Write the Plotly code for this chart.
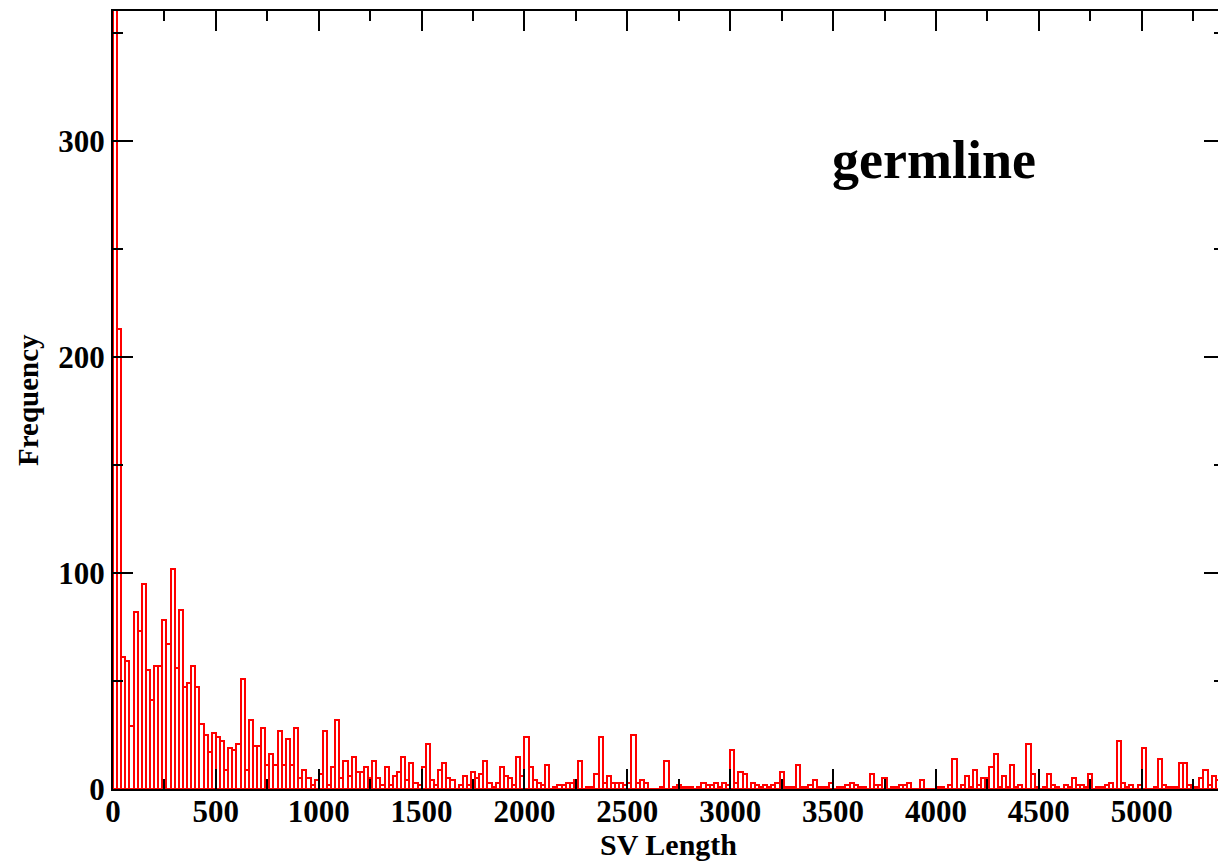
import plotly.graph_objects as go

# Histogram of SV lengths (bin width 20, starting at 0)
bin_width = 20
counts = [
    600, 213, 61, 59, 29, 82, 73, 95, 55, 41,      # 0-199
    57, 57, 78, 67, 102, 56, 83, 47, 49, 57,       # 200-399
    47, 30, 25, 17, 26, 24, 22, 9, 19, 18,         # 400-599
    21, 51, 9, 32, 20, 20, 28, 11, 16, 11,         # 600-799
    27, 11, 23, 11, 28, 5, 9, 5, 2, 4,             # 800-999
    7, 27, 2, 10, 32, 5, 13, 6, 15, 8,             # 1000-1199
    8, 10, 5, 13, 5, 2, 10, 2, 6, 8,               # 1200-1399
    15, 4, 12, 3, 2, 10, 21, 4, 2, 9,              # 1400-1599
    12, 5, 4, 0, 2, 6, 2, 8, 5, 7,                 # 1600-1799
    13, 3, 1, 3, 10, 6, 5, 2, 15, 6,               # 1800-1999
    24, 10, 4, 3, 2, 11, 0, 1, 2, 2,               # 2000-2199
    3, 3, 4, 13, 0, 1, 1, 7, 24, 3,                # 2200-2399
    6, 3, 3, 3, 2, 3, 25, 3, 4, 3,                 # 2400-2599
    0, 0, 0, 1, 13, 0, 1, 2, 1, 1,                 # 2600-2799
    1, 0, 1, 3, 2, 2, 3, 1, 3, 2,                  # 2800-2999
    18, 3, 8, 7, 0, 3, 2, 1, 2, 1,                 # 3000-3199
    2, 3, 8, 1, 1, 1, 11, 1, 1, 2,                 # 3200-3399
    4, 1, 1, 1, 3, 0, 1, 1, 2, 3,                  # 3400-3599
    2, 1, 1, 0, 7, 2, 2, 5, 0, 1,                  # 3600-3799
    1, 2, 2, 3, 0, 0, 4, 0, 0, 0,                  # 3800-3999
    1, 1, 0, 2, 14, 0, 2, 6, 1, 9,                 # 4000-4199
    2, 5, 5, 10, 16, 1, 6, 1, 11, 1,               # 4200-4399
    2, 0, 21, 7, 1, 0, 1, 7, 2, 1,                 # 4400-4599
    0, 2, 1, 5, 2, 2, 1, 7, 0, 1,                  # 4600-4799
    1, 2, 3, 0, 22, 3, 1, 2, 0, 2,                 # 4800-4999
    19, 0, 0, 1, 14, 2, 1, 1, 1, 12,               # 5000-5199
    12, 2, 0, 1, 5, 9, 2, 6, 4, 0,                 # 5200-5399
]
bin_centers = [bin_width * i + bin_width / 2 for i in range(len(counts))]

x_range = [0, 5400]
y_range = [0, 360]
x_title = "SV Length"
y_title = "Frequency"
label_text = "germline"

font_family = "Liberation Serif"

fig = go.Figure()
fig.add_trace(go.Bar(
    x=bin_centers, y=counts, width=bin_width,
    marker=dict(color="rgba(255,255,255,0)", line=dict(color="#ff0000", width=2)),
    showlegend=False,
))

axis_common = dict(
    showline=True, linewidth=2, linecolor="black", mirror="ticks",
    ticks="inside", ticklen=20, tickwidth=2, tickcolor="black",
    showgrid=False, zeroline=False, automargin=False,
    tickfont=dict(family=font_family, size=31, color="black", weight="bold"),
)

fig.update_xaxes(range=x_range, tick0=0, dtick=500, ticklabelstandoff=-6,
                 minor=dict(ticks="inside", ticklen=10, tickwidth=2, tickcolor="black", dtick=250, showgrid=False),
                 **axis_common)
fig.update_yaxes(range=y_range, tick0=0, dtick=100,
                 minor=dict(ticks="inside", ticklen=10, tickwidth=2, tickcolor="black", dtick=50, showgrid=False),
                 **axis_common)

fig.add_annotation(text=x_title, xref="paper", yref="paper", x=0.5, y=-0.0715,
                   xanchor="center", yanchor="middle", showarrow=False,
                   font=dict(family=font_family, size=30, color="black", weight="bold"))
fig.add_annotation(text=y_title, xref="paper", yref="paper", x=-0.0765, y=0.5,
                   xanchor="center", yanchor="middle", showarrow=False, textangle=-90,
                   font=dict(family=font_family, size=29, color="black", weight="bold"))
fig.add_annotation(text=label_text, xref="paper", yref="paper", x=0.7390, y=0.8085,
                   xanchor="center", yanchor="middle", showarrow=False,
                   font=dict(family=font_family, size=54, color="black", weight="bold"))

# page body adds an 8px margin, so the figure is sized to land the plot area in place
fig.update_layout(
    width=1218, height=853,
    margin=dict(l=105, r=2, t=3, b=72),
    plot_bgcolor="white", paper_bgcolor="white",
    bargap=0,
)

fig.write_html("out.html")
